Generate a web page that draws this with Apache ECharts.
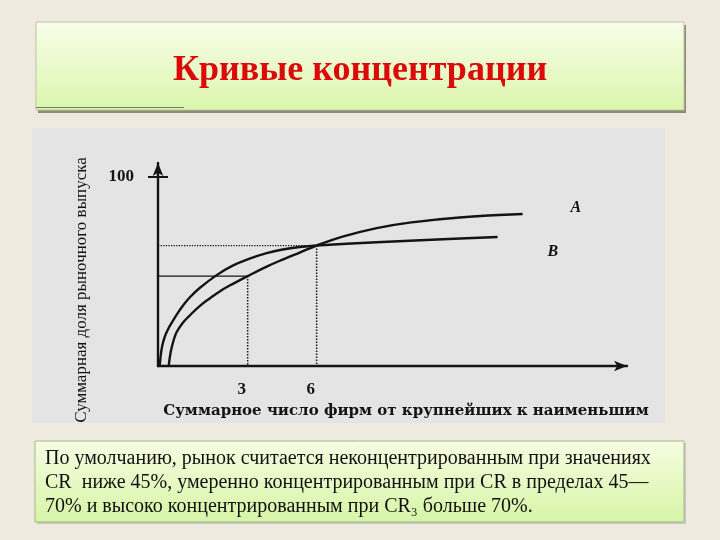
<!DOCTYPE html>
<html>
<head>
<meta charset="utf-8">
<script src="https://cdn.jsdelivr.net/npm/echarts@6/dist/echarts.min.js"></script>
<style>
  html, body { margin: 0; padding: 0; background: #eeeae0; }
  #chart { width: 720px; height: 540px; }
</style>
</head>
<body>
<div id="chart"></div>
<script>
// Кривые концентрации: доля рынка (%) против числа фирм
const curveA = [
  [-0.435, 0], [-0.348, 7.4], [-0.217, 13.7], [-0.087, 17.9], [0.174, 22.7],
  [0.478, 26.6], [0.913, 31.6], [1.348, 35.6], [1.783, 39.3], [2.217, 42.4],
  [3.0, 47.4], [3.826, 52.4], [4.522, 56.1], [5.261, 59.8], [6.0, 63.5],
  [7.13, 68.2], [8.61, 72.7], [10.04, 75.6], [12.22, 78.3], [14.96, 80.1]
];
const curveB = [
  [-0.826, 0], [-0.783, 5.3], [-0.717, 10.5], [-0.609, 15.3], [-0.435, 20.0],
  [-0.261, 23.7], [-0.043, 27.9], [0.174, 31.6], [0.478, 36.1], [0.913, 41.1],
  [1.652, 47.9], [2.348, 52.9], [3.087, 56.6], [3.826, 59.5], [4.522, 61.4],
  [5.261, 62.7], [6.0, 63.5], [8.61, 65.2], [11.48, 66.8], [13.87, 68.0]
];
const firmTicks = [3, 6];
const shareTicks = [100];
const cr3Level = 47.4;
const cr6Level = 63.5;
const xMin = -0.9, xMax = 19.5, yMax = 107;

const cr3Horizontal = [[xMin, cr3Level], [firmTicks[0], cr3Level]];
const cr3Vertical = [[firmTicks[0], cr3Level], [firmTicks[0], 0]];
const cr6Horizontal = [[xMin, cr6Level], [firmTicks[1], cr6Level]];
const cr6Vertical = [[firmTicks[1], cr6Level], [firmTicks[1], 0]];

const textLines = [
  'По умолчанию, рынок считается неконцентрированным при значениях',
  'CR  ниже 45%, умеренно концентрированным при CR в пределах 45—',
  '70% и высоко концентрированным при CR₃ больше 70%.'
];

const ink = '#141414';
const serif = "'Liberation Serif', 'Times New Roman', serif";

function boxGradient(top, bottom) {
  return new echarts.graphic.LinearGradient(0, 0, 0, 1, [
    { offset: 0, color: top },
    { offset: 1, color: bottom }
  ]);
}

function refLine(data, type, width) {
  return {
    type: 'line', data: data, symbol: 'none', silent: true, z: 1,
    lineStyle: { color: ink, width: width, type: type }
  };
}

function curve(name, data, offset) {
  return {
    name: name, type: 'line', data: data, symbol: 'none',
    smooth: 0.4, z: 3,
    lineStyle: { color: ink, width: 2.4 },
    endLabel: {
      show: true, formatter: name, offset: offset,
      fontFamily: serif, fontStyle: 'italic', fontWeight: 'bold',
      fontSize: 16, color: ink
    }
  };
}

const chart = echarts.init(document.getElementById('chart'), null, { renderer: 'canvas' });

chart.setOption({
  backgroundColor: '#eeeae0',
  animation: false,
  graphic: [
    // заголовок
    { type: 'rect', z: -10, shape: { x: 38, y: 25, width: 648, height: 88 }, style: { fill: '#8d8d76' } },
    { type: 'rect', z: -9, shape: { x: 36, y: 22, width: 648, height: 88 },
      style: { fill: boxGradient('#f8fde9', '#dbf6ad'), stroke: '#bcc4a4', lineWidth: 1 } },
    { type: 'line', z: -8, shape: { x1: 36, y1: 107.5, x2: 184, y2: 107.5 }, style: { stroke: '#6f7d55', lineWidth: 1 } },
    { type: 'text', z: 10, x: 360, y: 71,
      style: { text: 'Кривые концентрации', align: 'center', verticalAlign: 'middle',
        font: "bold 36px 'Liberation Serif', serif", fill: '#dc0b0b' } },
    // картинка графика
    { type: 'rect', z: -10, shape: { x: 32, y: 128, width: 633, height: 295 }, style: { fill: '#e4e4e4' } },
    // нижний текст
    { type: 'rect', z: -10, shape: { x: 37, y: 443, width: 649, height: 81 }, style: { fill: '#c9cbbd' } },
    { type: 'rect', z: -9, shape: { x: 35, y: 441, width: 649, height: 81 },
      style: { fill: boxGradient('#f6fce2', '#d6f5a6'), stroke: '#a9b58e', lineWidth: 1 } },
    { type: 'text', z: 10, x: 45, y: 459,
      style: { text: textLines[0], verticalAlign: 'middle', font: "20px 'Liberation Serif', serif", fill: '#111' } },
    { type: 'text', z: 10, x: 45, y: 483,
      style: { text: textLines[1], verticalAlign: 'middle', font: "20px 'Liberation Serif', serif", fill: '#111' } },
    { type: 'text', z: 10, x: 45, y: 507,
      style: { text: textLines[2], verticalAlign: 'middle', font: "20px 'Liberation Serif', serif", fill: '#111' } },
    // подписи осей
    { type: 'text', z: 10, x: 82, y: 290, rotation: Math.PI / 2,
      style: { text: 'Суммарная доля рыночного выпуска', align: 'center', verticalAlign: 'middle',
        font: "17px 'Liberation Serif', serif", fill: ink } },
    { type: 'text', z: 10, x: 406, y: 411,
      style: { text: 'Суммарное число фирм от крупнейших к наименьшим', align: 'center', verticalAlign: 'middle',
        font: "bold 15px 'DejaVu Serif', serif", fill: ink } }
  ],
  grid: { left: 158, right: 93, top: 163, bottom: 174 },
  xAxis: {
    type: 'value', min: xMin, max: xMax,
    axisLine: { show: true, symbol: ['none', 'arrow'], symbolSize: [8, 13], lineStyle: { color: ink, width: 2.4 } },
    axisTick: { show: false },
    splitLine: { show: false },
    axisLabel: {
      customValues: firmTicks, margin: 15, padding: [0, 12, 0, 0],
      fontFamily: serif, fontWeight: 'bold', fontSize: 17, color: ink
    }
  },
  yAxis: [
    {
      type: 'value', min: 0, max: yMax, position: 'left',
      axisLine: { show: true, onZero: false, symbol: ['none', 'arrow'], symbolSize: [8, 13], lineStyle: { color: ink, width: 2.4 } },
      axisTick: { show: true, customValues: shareTicks, length: 10, lineStyle: { color: ink, width: 2 } },
      splitLine: { show: false },
      axisLabel: {
        customValues: shareTicks, margin: 24,
        fontFamily: serif, fontWeight: 'bold', fontSize: 17, color: ink
      }
    },
    {
      type: 'value', min: 0, max: yMax, position: 'left',
      axisLine: { show: false, onZero: false },
      axisTick: { show: true, inside: true, customValues: shareTicks, length: 10, lineStyle: { color: ink, width: 2 } },
      axisLabel: { show: false },
      splitLine: { show: false }
    }
  ],
  series: [
    refLine(cr3Horizontal, 'solid', 1.3),
    refLine(cr3Vertical, 'dotted', 1.5),
    refLine(cr6Horizontal, 'dotted', 1.3),
    refLine(cr6Vertical, 'dotted', 1.5),
    curve('A', curveA, [40, -6]),
    curve('B', curveB, [42, 15])
  ]
});

window.addEventListener('resize', () => chart.resize());
</script>
</body>
</html>
